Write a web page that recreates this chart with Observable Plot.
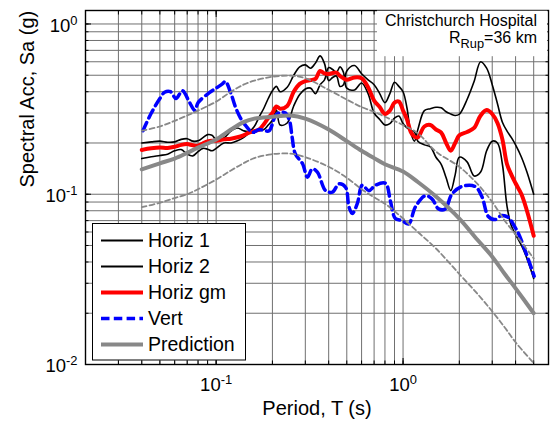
<!DOCTYPE html>
<html><head><meta charset="utf-8">
<script src="https://cdn.jsdelivr.net/npm/d3@7"></script>
<script src="https://cdn.jsdelivr.net/npm/@observablehq/plot@0.6"></script>
<style>
html,body{margin:0;padding:0;background:#fff;}
#chart{width:550px;height:427px;}
</style></head><body><div id="chart"></div>
<script>
// ---- data ----
const periods = [0.04,0.045,0.05,0.055,0.06,0.065,0.07,0.075,0.08,0.085,0.09,0.095,0.1,0.11,0.12,0.13,0.14,0.15,0.16,0.17,0.18,0.19,0.2,0.21,0.22,0.24,0.26,0.28,0.3,0.32,0.34,0.36,0.38,0.4,0.42,0.44,0.46,0.48,0.5,0.55,0.6,0.65,0.7,0.75,0.8,0.85,0.9,0.95,1.0,1.05,1.1,1.15,1.2,1.3,1.4,1.5,1.6,1.7,1.8,1.9,2.0,2.2,2.4,2.6,2.8,3.0,3.2,3.4,3.6,3.8,4.0,4.3,4.6,5.0];
const horiz1 = [0.200,0.203,0.205,0.202,0.203,0.210,0.212,0.205,0.206,0.215,0.224,0.222,0.210,0.214,0.235,0.245,0.236,0.234,0.250,0.285,0.320,0.365,0.405,0.430,0.400,0.425,0.500,0.560,0.575,0.550,0.590,0.650,0.585,0.465,0.485,0.495,0.430,0.440,0.530,0.570,0.510,0.470,0.440,0.390,0.345,0.390,0.455,0.430,0.400,0.320,0.230,0.205,0.240,0.310,0.318,0.324,0.322,0.305,0.296,0.290,0.295,0.360,0.460,0.600,0.550,0.440,0.340,0.265,0.235,0.215,0.195,0.165,0.135,0.100];
const horiz2 = [0.162,0.166,0.169,0.172,0.180,0.183,0.172,0.168,0.178,0.186,0.184,0.180,0.186,0.200,0.200,0.206,0.215,0.228,0.232,0.236,0.240,0.255,0.272,0.312,0.255,0.262,0.330,0.385,0.415,0.420,0.390,0.440,0.470,0.555,0.540,0.520,0.560,0.520,0.420,0.410,0.450,0.390,0.300,0.275,0.255,0.260,0.280,0.288,0.260,0.245,0.238,0.232,0.205,0.195,0.190,0.165,0.150,0.125,0.105,0.130,0.165,0.155,0.128,0.135,0.180,0.205,0.200,0.150,0.085,0.065,0.058,0.050,0.042,0.032];
const horizGM = [0.182,0.186,0.188,0.187,0.190,0.195,0.197,0.194,0.193,0.199,0.204,0.206,0.206,0.210,0.212,0.216,0.222,0.230,0.235,0.240,0.258,0.280,0.300,0.328,0.318,0.330,0.400,0.445,0.462,0.468,0.476,0.530,0.512,0.508,0.515,0.518,0.495,0.480,0.470,0.485,0.480,0.425,0.355,0.325,0.296,0.310,0.345,0.350,0.310,0.275,0.232,0.218,0.216,0.250,0.255,0.240,0.230,0.200,0.180,0.200,0.222,0.232,0.245,0.290,0.312,0.296,0.262,0.210,0.150,0.130,0.116,0.100,0.080,0.057];
const vertPeriods = [0.0406,0.045,0.05,0.053,0.057,0.061,0.066,0.072,0.077,0.08,0.092,0.1,0.108,0.112,0.12,0.127,0.135,0.144,0.157,0.17,0.18,0.192,0.208,0.22,0.235,0.247,0.255,0.265,0.29,0.308,0.327,0.348,0.385,0.419,0.454,0.492,0.514,0.535,0.569,0.605,0.656,0.712,0.805,0.856,0.91,0.988,1.072,1.163,1.315,1.427,1.549,1.681,1.824,2.06,2.43,2.64,2.86,3.1,3.37,3.66,3.97,4.14,4.49,5.03];
const vert = [0.236,0.30,0.365,0.397,0.40,0.365,0.405,0.347,0.31,0.345,0.395,0.42,0.445,0.46,0.39,0.324,0.28,0.253,0.231,0.24,0.237,0.236,0.29,0.303,0.30,0.27,0.216,0.173,0.151,0.126,0.141,0.135,0.105,0.103,0.115,0.11,0.084,0.077,0.088,0.113,0.105,0.113,0.116,0.091,0.072,0.07,0.067,0.084,0.098,0.094,0.082,0.082,0.1,0.111,0.111,0.097,0.074,0.071,0.075,0.073,0.064,0.059,0.047,0.033];
const predPeriods = [0.04,0.05,0.06,0.07,0.08,0.1,0.12,0.14,0.16,0.2,0.25,0.3,0.4,0.5,0.6,0.7,0.8,1.0,1.2,1.5,2.0,2.5,3.0,3.5,4.0,5.0];
const prediction = [0.14,0.152,0.162,0.175,0.188,0.21,0.24,0.265,0.278,0.285,0.29,0.278,0.24,0.205,0.18,0.163,0.15,0.136,0.118,0.097,0.072,0.054,0.043,0.034,0.028,0.020];
const predUpper = [0.236,0.25,0.27,0.29,0.31,0.35,0.40,0.44,0.465,0.49,0.497,0.48,0.41,0.36,0.325,0.305,0.285,0.255,0.228,0.178,0.145,0.115,0.09,0.07,0.058,0.042];
const predLower = [0.084,0.089,0.095,0.10,0.107,0.122,0.138,0.152,0.163,0.172,0.173,0.165,0.145,0.125,0.107,0.096,0.088,0.072,0.06,0.048,0.034,0.026,0.0205,0.0165,0.0135,0.0102];

const xMajorTicks = [0.1, 1];
const xTickLabels = ["10^-1", "10^0"];
const yMajorTicks = [0.01, 0.1, 1];
const yTickLabels = ["10^-2", "10^-1", "10^0"];
const xGridTicks = [0.02,0.03,0.04,0.05,0.06,0.07,0.08,0.09,0.1,0.2,0.3,0.4,0.5,0.6,0.7,0.8,0.9,1,2,3,4,5,6];
const yGridTicks = [0.01,0.02,0.03,0.04,0.05,0.06,0.07,0.08,0.09,0.1,0.2,0.3,0.4,0.5,0.6,0.7,0.8,0.9,1];

const seriesNames = ["Horiz 1", "Horiz 2", "Horiz gm", "Vert", "Prediction"];
const annotationLines = ["Christchurch Hospital", "R^Rup^=36 km"];
const xTitle = "Period, T (s)";
const yTitle = "Spectral Acc, Sa (g)";

// ---- tables ----
const rows = (xs, ys) => xs.map((T, i) => ({T, Sa: ys[i]}));
const h1 = rows(periods, horiz1);
const h2 = rows(periods, horiz2);
const gm = rows(periods, horizGM);
const vt = rows(vertPeriods, vert);
const pr = rows(predPeriods, prediction);
const pu = rows(predPeriods, predUpper);
const pl = rows(predPeriods, predLower);

const FONT = "Liberation Sans, Arial, Helvetica, sans-serif";
const gridStyle = {stroke: "#707070", strokeOpacity: 1, strokeWidth: 1};

const chart = Plot.plot({
  width: 550, height: 427,
  marginLeft: 85, marginRight: 2, marginTop: 10, marginBottom: 63,
  style: {fontFamily: FONT, background: "white", color: "black"},
  x: {type: "log", domain: [0.02, 6], axis: null},
  y: {type: "log", domain: [0.01, 1.2], axis: null},
  marks: [
    Plot.gridX(xGridTicks, gridStyle),
    Plot.gridY(yGridTicks, gridStyle),
    // inward ticks on all sides
    Plot.axisX({ticks: xGridTicks, anchor: "bottom", tickSize: -3.5, tickFormat: () => "", label: null}),
    Plot.axisX({ticks: xGridTicks, anchor: "top", tickSize: -3.5, tickFormat: () => "", label: null}),
    Plot.axisY({ticks: yGridTicks, anchor: "left", tickSize: -3.5, tickFormat: () => "", label: null}),
    Plot.axisY({ticks: yGridTicks, anchor: "right", tickSize: -3.5, tickFormat: () => "", label: null}),
    Plot.axisY({ticks: yMajorTicks, anchor: "left", tickSize: -6, tickFormat: () => "", label: null}),
    Plot.axisY({ticks: yMajorTicks, anchor: "right", tickSize: -6, tickFormat: () => "", label: null}),
    Plot.axisX({ticks: xMajorTicks, anchor: "bottom", tickSize: -6, tickFormat: () => "", label: null}),
    Plot.axisX({ticks: xMajorTicks, anchor: "top", tickSize: -6, tickFormat: () => "", label: null}),
    // tick labels
    Plot.axisX({ticks: xMajorTicks, anchor: "bottom", tickSize: 0, tickPadding: 13, fontSize: 18.5,
      tickFormat: d => xTickLabels[xMajorTicks.indexOf(d)], label: null}),
    Plot.axisY({ticks: yMajorTicks, anchor: "left", tickSize: 0, tickPadding: 8, fontSize: 18.5, dy: 2,
      tickFormat: d => yTickLabels[yMajorTicks.indexOf(d)], label: null}),
    // series
    Plot.line(h1, {x: "T", y: "Sa", stroke: "black", strokeWidth: 1.6, curve: "catmull-rom"}),
    Plot.line(h2, {x: "T", y: "Sa", stroke: "black", strokeWidth: 1.6, curve: "catmull-rom"}),
    Plot.line(gm, {x: "T", y: "Sa", stroke: "#ff0000", strokeWidth: 4, curve: "catmull-rom"}),
    Plot.line(vt, {x: "T", y: "Sa", stroke: "#0000ff", strokeWidth: 3.5, strokeDasharray: "9,5", curve: "catmull-rom"}),
    Plot.line(pr, {x: "T", y: "Sa", stroke: "#888888", strokeWidth: 4, curve: "catmull-rom"}),
    Plot.line(pu, {x: "T", y: "Sa", stroke: "#888888", strokeWidth: 1.8, strokeDasharray: "5,3", curve: "catmull-rom"}),
    Plot.line(pl, {x: "T", y: "Sa", stroke: "#888888", strokeWidth: 1.8, strokeDasharray: "5,3", curve: "catmull-rom"}),
    // axis titles
    Plot.text([xTitle], {text: d => d, frameAnchor: "bottom", dy: 44, fontSize: 20, lineAnchor: "middle"}),
    Plot.text([yTitle], {text: d => d, frameAnchor: "left", rotate: -90, dx: -58, fontSize: 20, lineAnchor: "middle"}),
    Plot.frame({stroke: "black", strokeWidth: 1.4})
  ]
});
document.getElementById("chart").appendChild(chart);

const svg = d3.select(chart);
// superscript exponents in tick labels
svg.selectAll('g[aria-label="x-axis tick label"] text, g[aria-label="y-axis tick label"] text').each(function () {
  const t = d3.select(this);
  const s = t.text();
  if (!s.includes("^")) return;
  const [base, exp] = s.split("^");
  t.text(null);
  t.append("tspan").text(base);
  t.append("tspan").attr("dy", "-0.55em").attr("font-size", "0.7em").text(exp);
});

// annotation box (top-right)
const ann = svg.append("g").attr("font-family", FONT).attr("font-size", 16);
ann.append("rect").attr("x", 377).attr("y", 10.7).attr("width", 170.3).attr("height", 45.5).attr("fill", "white");
ann.append("text").attr("x", 537).attr("y", 26).attr("text-anchor", "end").text(annotationLines[0]);
{
  const parts = annotationLines[1].split("^");
  const t = ann.append("text").attr("x", 537).attr("y", 43).attr("text-anchor", "end");
  t.append("tspan").text(parts[0]);
  t.append("tspan").attr("dy", "0.4em").attr("font-size", "0.8em").text(parts[1]);
  t.append("tspan").attr("dy", "-0.32em").text(parts[2]);
}

// legend (bottom-left, inside axes)
const lg = svg.append("g").attr("font-family", FONT).attr("font-size", 19.5).attr("text-anchor", "start");
lg.append("rect").attr("x", 92.5).attr("y", 223.5).attr("width", 153).attr("height", 136.5)
  .attr("fill", "white").attr("stroke", "black").attr("stroke-width", 1);
const legendStyles = [
  {stroke: "black", w: 1.8, dash: null},
  {stroke: "black", w: 1.8, dash: null},
  {stroke: "#ff0000", w: 4, dash: null},
  {stroke: "#0000ff", w: 3.5, dash: "8.5,4.3"},
  {stroke: "#888888", w: 4, dash: null}
];
seriesNames.forEach((name, i) => {
  const cy = 240.5 + 26 * i;
  const st = legendStyles[i];
  const ln = lg.append("line").attr("x1", 101).attr("x2", 143).attr("y1", cy).attr("y2", cy)
    .attr("stroke", st.stroke).attr("stroke-width", st.w);
  if (st.dash) ln.attr("stroke-dasharray", st.dash);
  lg.append("text").attr("x", 148).attr("y", cy).attr("dy", "0.35em").attr("text-anchor", "start").text(name);
});
</script>
</body></html>
